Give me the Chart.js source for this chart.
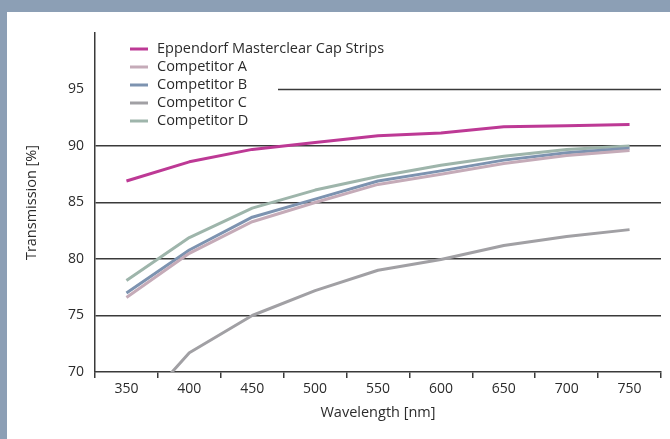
<!DOCTYPE html>
<html>
<head>
<meta charset="utf-8">
<title>Transmission</title>
<script src="https://cdn.jsdelivr.net/npm/chart.js@4.4.0/dist/chart.umd.min.js"></script>
<style>
    html, body { margin: 0; padding: 0; }
    body { width: 670px; height: 439px; background: #8c9fb5; overflow: hidden; position: relative; }
    #panel { position: absolute; left: 7px; top: 12px; width: 663px; height: 427px; background: #fff; }
    canvas { display: block; }
</style>
</head>
<body>
<div id="panel"><canvas id="transmission-chart" width="663" height="427"></canvas></div>
<script>
// Transmission of cap strips vs. wavelength

const wavelengths = ['350', '400', '450', '500', '550', '600', '650', '700', '750'];
const seriesNames = ['Eppendorf Masterclear Cap Strips', 'Competitor A', 'Competitor B', 'Competitor C', 'Competitor D'];

const eppendorf   = [86.9, 88.6, 89.7, 90.3, 90.9, 91.15, 91.7, 91.8, 91.9];
const competitorA = [76.6, 80.5, 83.3, 85.0, 86.6, 87.5, 88.45, 89.15, 89.6];
const competitorB = [77.0, 80.8, 83.7, 85.3, 86.9, 87.8, 88.75, 89.4, 89.8];
const competitorC = [65.5, 71.7, 75.0, 77.2, 79.0, 79.95, 81.2, 82.0, 82.6];
const competitorD = [78.1, 81.9, 84.5, 86.1, 87.3, 88.3, 89.1, 89.7, 90.0];

const yTicks = [70, 75, 80, 85, 90, 95];

const lineColors = ['#bd3995', '#c5abb8', '#7d93b0', '#a1a0a4', '#9eb5ab'];
const textColor = '#2b2b2b';
const gridColor = '#3a3a3a';

Chart.defaults.font.family = "'Open Sans', sans-serif";
Chart.defaults.font.size = 14;
Chart.defaults.color = textColor;

// legend drawn inside the plot, top-left, plus the short 95 gridline beside it
const insideLegend = {
    id: 'insideLegend',
    afterDatasetsDraw(chart) {
        const ctx = chart.ctx;
        const area = chart.chartArea;
        const y95 = chart.scales.y.getPixelForValue(95);
        ctx.save();
        ctx.strokeStyle = gridColor;
        ctx.lineWidth = 1.5;
        ctx.beginPath();
        ctx.moveTo(area.left + 183, y95);
        ctx.lineTo(area.right, y95);
        ctx.stroke();

        ctx.font = "14.5px 'Open Sans', sans-serif";
        ctx.textBaseline = 'middle';
        ctx.textAlign = 'left';
        chart.data.datasets.forEach((ds, i) => {
            const y = area.top + 16 + i * 18;
            ctx.strokeStyle = ds.borderColor;
            ctx.lineWidth = 3;
            ctx.beginPath();
            ctx.moveTo(area.left + 35, y);
            ctx.lineTo(area.left + 53, y);
            ctx.stroke();
            ctx.fillStyle = textColor;
            ctx.fillText(ds.label, area.left + 62, y);
        });
        ctx.restore();
    }
};

const seriesData = [eppendorf, competitorA, competitorB, competitorC, competitorD];

new Chart(document.getElementById('transmission-chart'), {
    type: 'line',
    data: {
        labels: wavelengths,
        datasets: seriesNames.map((name, i) => ({
            label: name,
            data: seriesData[i],
            borderColor: lineColors[i],
            backgroundColor: lineColors[i],
            borderWidth: 3,
            pointRadius: 0,
            tension: 0,
            borderJoinStyle: 'round',
            clip: 0
        }))
    },
    options: {
        responsive: false,
        animation: false,
        devicePixelRatio: 1,
        layout: { padding: { left: 0, right: 9, top: 21, bottom: 0 } },
        plugins: {
            legend: { display: false },
            tooltip: { enabled: false }
        },
        scales: {
            x: {
                offset: true,
                afterFit(scale) { scale.height = 67; },
                grid: {
                    offset: true,
                    drawOnChartArea: false,
                    drawTicks: true,
                    tickLength: 6,
                    color: gridColor,
                    lineWidth: 1.5
                },
                border: { display: true, color: gridColor, width: 1.5 },
                ticks: { padding: 3, color: textColor, maxRotation: 0 },
                title: {
                    display: true,
                    text: 'Wavelength [nm]',
                    color: textColor,
                    font: { size: 14.5 },
                    padding: { top: 4, bottom: 17 }
                }
            },
            y: {
                min: 70,
                max: 100,
                afterFit(scale) { scale.width = 88; },
                afterBuildTicks(scale) {
                    scale.ticks = yTicks.map(v => ({ value: v }));
                },
                grid: {
                    drawTicks: false,
                    color: ctx => (ctx.tick && [75, 80, 85, 90].includes(ctx.tick.value)) ? gridColor : 'rgba(0,0,0,0)',
                    lineWidth: 1.5
                },
                border: { display: true, color: gridColor, width: 1.5 },
                ticks: { padding: 11, color: textColor },
                title: {
                    display: true,
                    text: 'Transmission [%]',
                    color: textColor,
                    font: { size: 14.5 },
                    padding: { top: 16, bottom: 0 }
                }
            }
        }
    },
    plugins: [insideLegend]
});
</script>
</body>
</html>
